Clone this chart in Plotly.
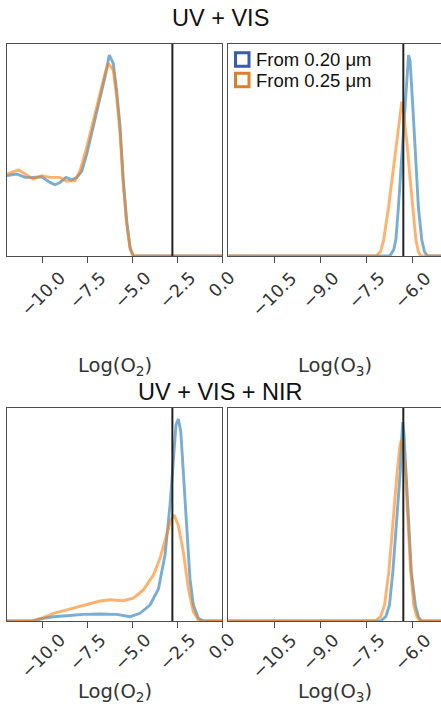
import plotly.graph_objects as go

# ---------------- data ----------------
row_titles = ["UV + VIS", "UV + VIS + NIR"]
legend_labels = ["From 0.20 μm", "From 0.25 μm"]

o2_ticks = [-10.0, -7.5, -5.0, -2.5, 0.0]
o2_ticktext = ["−10.0", "−7.5", "−5.0", "−2.5", "0.0"]
o3_ticks = [-10.5, -9.0, -7.5, -6.0]
o3_ticktext = ["−10.5", "−9.0", "−7.5", "−6.0"]
o2_range = [-12.0, 0.0]
o3_range = [-12.0, -5.085]

# reference (true) values, vertical lines
o2_true = -2.77
o3_true = -6.31

# UV+VIS, O2
o2_vis_blue_x = [-12.0, -11.46, -10.99, -10.55, -10.06, -9.6, -9.32, -9.04, -8.71, -8.39, -8.11, -7.83,
                 -7.55, -7.18, -6.81, -6.53, -6.29, -6.07, -5.88, -5.69, -5.51, -5.32, -5.13, -4.95, 0.0]
o2_vis_blue_y = [0.379, 0.387, 0.371, 0.37, 0.374, 0.347, 0.336, 0.347, 0.371, 0.359, 0.37, 0.40,
                 0.48, 0.61, 0.735, 0.845, 0.948, 0.908, 0.78, 0.61, 0.355, 0.166, 0.04, 0.0, 0.0]
o2_vis_orange_x = [-12.0, -11.35, -10.99, -10.53, -10.06, -9.6, -9.04, -8.67, -8.21, -7.93, -7.55, -7.18,
                   -6.81, -6.53, -6.34, -6.07, -5.88, -5.69, -5.51, -5.32, -5.13, -4.95, 0.0]
o2_vis_orange_y = [0.387, 0.406, 0.387, 0.363, 0.379, 0.371, 0.371, 0.352, 0.355, 0.40, 0.513, 0.64,
                   0.758, 0.861, 0.908, 0.877, 0.75, 0.577, 0.34, 0.15, 0.033, 0.0, 0.0]

# UV+VIS, O3
o3_vis_blue_x = [-12.0, -6.75, -6.62, -6.55, -6.47, -6.40, -6.34, -6.25, -6.19, -6.14, -6.09, -6.04,
                 -6.00, -5.93, -5.87, -5.82, -5.71, -5.62, -5.52, -5.085]
o3_vis_blue_y = [0.0, 0.0, 0.03, 0.08, 0.23, 0.38, 0.52, 0.70, 0.86, 0.948, 0.92, 0.82,
                 0.70, 0.52, 0.37, 0.23, 0.075, 0.02, 0.0, 0.0]
o3_vis_orange_x = [-12.0, -7.2, -7.05, -6.95, -6.79, -6.68, -6.52, -6.44, -6.36, -6.29, -6.20, -6.09,
                   -6.01, -5.90, -5.82, -5.74, -5.085]
o3_vis_orange_y = [0.0, 0.0, 0.02, 0.075, 0.23, 0.364, 0.547, 0.66, 0.728, 0.66, 0.547, 0.364,
                   0.23, 0.075, 0.02, 0.0, 0.0]

# UV+VIS+NIR, O2
o2_nir_blue_x = [-12.0, -10.53, -9.97, -9.41, -8.67, -7.74, -6.81, -5.88, -5.13, -4.58, -4.02, -3.55,
                 -3.18, -2.90, -2.72, -2.57, -2.44, -2.30, -2.16, -1.97, -1.79, -1.60, -1.32, -1.04, 0.0]
o2_nir_blue_y = [0.0, 0.0, 0.013, 0.02, 0.025, 0.031, 0.033, 0.031, 0.02, 0.036, 0.075, 0.15,
                 0.31, 0.545, 0.748, 0.92, 0.948, 0.889, 0.70, 0.42, 0.20, 0.075, 0.013, 0.0, 0.0]
o2_nir_orange_x = [-12.0, -10.62, -9.97, -9.41, -8.67, -7.74, -6.81, -6.25, -5.51, -4.95, -4.39, -3.83,
                   -3.46, -3.09, -2.86, -2.68, -2.44, -2.16, -1.88, -1.60, -1.32, -1.04, 0.0]
o2_nir_orange_y = [0.0, 0.0, 0.016, 0.036, 0.052, 0.072, 0.094, 0.10, 0.095, 0.107, 0.146, 0.216,
                   0.294, 0.404, 0.474, 0.498, 0.45, 0.325, 0.153, 0.044, 0.005, 0.0, 0.0]

# UV+VIS+NIR, O3
o3_nir_blue_x = [-12.0, -7.05, -6.88, -6.76, -6.65, -6.52, -6.41, -6.36, -6.33, -6.29, -6.22, -6.14,
                 -6.05, -5.92, -5.82, -5.72, -5.085]
o3_nir_blue_y = [0.0, 0.0, 0.02, 0.075, 0.232, 0.467, 0.70, 0.86, 0.934, 0.88, 0.70, 0.467,
                 0.232, 0.075, 0.02, 0.0, 0.0]
o3_nir_orange_x = [-12.0, -7.22, -7.05, -6.92, -6.78, -6.65, -6.51, -6.43, -6.38, -6.32, -6.24, -6.16,
                   -6.07, -5.97, -5.87, -5.76, -5.085]
o3_nir_orange_y = [0.0, 0.0, 0.02, 0.075, 0.232, 0.467, 0.70, 0.81, 0.85, 0.81, 0.70, 0.467,
                   0.232, 0.075, 0.02, 0.0, 0.0]

# ---------------- styling ----------------
W, H = 441, 706
BLUE_LINE = "rgba(31,119,180,0.6)"
ORANGE_LINE = "rgba(255,127,14,0.6)"
BLUE_LEG = "#3a5ba8"
ORANGE_LEG = "#d8822e"
FRAME = "#4d4d4d"
TICKFONT = dict(family="DejaVu Sans", size=17.5, color="#333333")
LABELFONT = dict(family="DejaVu Sans", size=19.5, color="#333333")

def px_x(a, b):
    return [a / W, min(b / W, 1.0)]

def px_y(top, bottom):
    return [1 - bottom / H, 1 - top / H]

def py(v):
    return 1 - v / H

fig = go.Figure()

panels = [
    ("x", "y", o2_vis_blue_x, o2_vis_blue_y, o2_vis_orange_x, o2_vis_orange_y, o2_true),
    ("x2", "y2", o3_vis_blue_x, o3_vis_blue_y, o3_vis_orange_x, o3_vis_orange_y, o3_true),
    ("x3", "y3", o2_nir_blue_x, o2_nir_blue_y, o2_nir_orange_x, o2_nir_orange_y, o2_true),
    ("x4", "y4", o3_nir_blue_x, o3_nir_blue_y, o3_nir_orange_x, o3_nir_orange_y, o3_true),
]

for xa, ya, bx, by, ox, oy, tv in panels:
    fig.add_trace(go.Scatter(x=bx, y=by, mode="lines", xaxis=xa, yaxis=ya,
                             line=dict(color=BLUE_LINE, width=2.9), showlegend=False,
                             hoverinfo="skip"))
    fig.add_trace(go.Scatter(x=ox, y=oy, mode="lines", xaxis=xa, yaxis=ya,
                             line=dict(color=ORANGE_LINE, width=2.9), showlegend=False,
                             hoverinfo="skip"))
    fig.add_shape(type="line", xref=xa, yref=ya + " domain", x0=tv, x1=tv, y0=0, y1=1,
                  line=dict(color="#222222", width=2), layer="above")

def xaxis_style(domain, rng, tv, anchor):
    return dict(domain=domain, range=rng, anchor=anchor, tickvals=tv, showticklabels=False,
                ticks="outside", ticklen=6, tickwidth=1.4, tickcolor=FRAME,
                showline=True, linecolor=FRAME, linewidth=1.4, mirror=True,
                showgrid=False, zeroline=False)

def yaxis_style(domain, anchor, mirror):
    return dict(domain=domain, range=[0, 1.0], anchor=anchor, showticklabels=False, ticks="",
                showline=True, linecolor=FRAME, linewidth=1.4, mirror=mirror,
                showgrid=False, zeroline=False)

top = px_y(44, 256)
bot = px_y(408, 621)
left = px_x(7, 222)
right = px_x(228.3, 441)

fig.update_layout(
    height=H, autosize=True,
    margin=dict(l=0, r=0, t=0, b=0),
    paper_bgcolor="white", plot_bgcolor="white",
    xaxis=xaxis_style(left, o2_range, o2_ticks, "y"),
    yaxis=yaxis_style(top, "x", True),
    xaxis2=xaxis_style(right, o3_range, o3_ticks, "y2"),
    yaxis2=yaxis_style(top, "x2", False),
    xaxis3=xaxis_style(left, o2_range, o2_ticks, "y3"),
    yaxis3=yaxis_style(bot, "x3", True),
    xaxis4=xaxis_style(right, o3_range, o3_ticks, "y4"),
    yaxis4=yaxis_style(bot, "x4", False),
    showlegend=False,
)

# rotated tick labels (centred under each tick, like matplotlib rotation=45)
for xa, ticks, texts, top_px in [("x", o2_ticks, o2_ticktext, 266), ("x2", o3_ticks, o3_ticktext, 266),
                                 ("x3", o2_ticks, o2_ticktext, 628), ("x4", o3_ticks, o3_ticktext, 628)]:
    for tv, tt in zip(ticks, texts):
        fig.add_annotation(text=tt, x=tv, xref=xa, y=py(top_px), yref="paper",
                           showarrow=False, xanchor="center", yanchor="top", textangle=-45,
                           font=TICKFONT, borderpad=0)

# legend (drawn manually: open squares + labels)
leg_rows = [59.5, 80.0]
for lab, col, cy in zip(legend_labels, [BLUE_LEG, ORANGE_LEG], leg_rows):
    fig.add_shape(type="rect", xref="paper", yref="paper",
                  x0=235.5 / W, x1=249 / W, y0=py(cy - 6.8), y1=py(cy + 6.8),
                  line=dict(color=col, width=3), fillcolor="white", layer="above")
    fig.add_annotation(text=lab, x=254 / W, y=py(cy), xref="paper", yref="paper",
                       showarrow=False, xanchor="left", yanchor="middle",
                       font=dict(family="Liberation Sans", size=18.5, color="#111111"))

# row titles
for title, ypx in zip(row_titles, [18, 392]):
    fig.add_annotation(text=title, x=0.5, y=py(ypx), xref="paper", yref="paper",
                       showarrow=False, xanchor="center", yanchor="middle",
                       font=dict(family="Liberation Sans", size=23.5, color="#111111"))

# axis labels
for xa, lab, ypx in [("x", "Log(O<sub>2</sub>)", 366), ("x2", "Log(O<sub>3</sub>)", 366),
                     ("x3", "Log(O<sub>2</sub>)", 692), ("x4", "Log(O<sub>3</sub>)", 692)]:
    fig.add_annotation(text=lab, x=0.5, y=py(ypx), xref=xa + " domain", yref="paper",
                       showarrow=False, xanchor="center", yanchor="middle", font=LABELFONT)

fig.write_html(
    "out.html",
    default_width="100%",
    config={"responsive": True, "displayModeBar": False},
    post_script="document.documentElement.style.overflow='hidden';"
                "document.body.style.overflow='hidden';"
                "document.body.style.margin='0';"
                "Plotly.Plots.resize(document.getElementById('{plot_id}'));",
)
